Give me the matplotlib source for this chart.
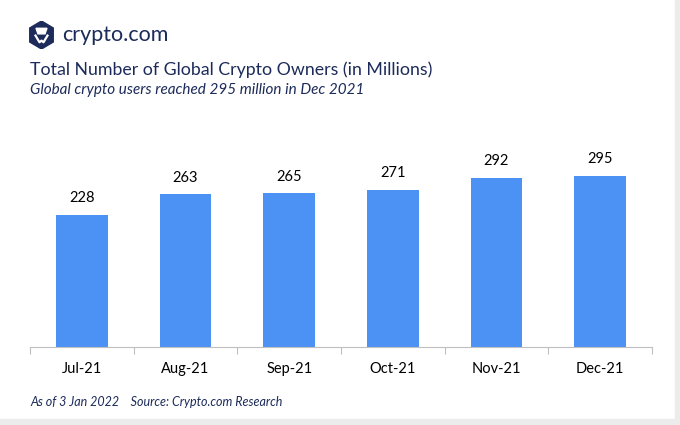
import matplotlib
matplotlib.use("Agg")
import matplotlib.pyplot as plt
from matplotlib.patches import Rectangle

months = ["Jul-21", "Aug-21", "Sep-21", "Oct-21", "Nov-21", "Dec-21"]
owners = [228, 263, 265, 271, 292, 295]

navy = "#1c2b5a"
blue = "#4b92f4"

plt.rcParams['font.family'] = ['Lato', 'DejaVu Sans']

fig = plt.figure(figsize=(6.8, 4.25), dpi=100)
fig.patch.set_facecolor("white")

# gray frame strip on right and bottom (screenshot border)
fig.patches.append(Rectangle((0.993, 0), 0.007, 1, transform=fig.transFigure, color="#ececec", zorder=0))
fig.patches.append(Rectangle((0, 0), 1, 0.014, transform=fig.transFigure, color="#ececec", zorder=0))

# logo: hexagon shield
lax = fig.add_axes([29 / 680, 1 - 49 / 425, 25 / 680, 28 / 425])
lax.set_xlim(0, 1)
lax.set_ylim(0, 1)
lax.axis("off")
hx = [0.5, 0.97, 0.97, 0.5, 0.03, 0.03, 0.5]
hy = [1.0, 0.75, 0.25, 0.0, 0.25, 0.75, 1.0]
lax.fill(hx, hy, color=navy)
lax.fill([0.28, 0.72, 0.64, 0.36], [0.74, 0.74, 0.54, 0.54], color="white")
lax.plot([0.26, 0.42, 0.5, 0.58, 0.74], [0.48, 0.24, 0.3, 0.24, 0.48], color="white", lw=1.6)

fig.text(62 / 680, 1 - 35 / 425, "crypto.com", fontsize=15.5, color=navy, va="center")
fig.text(30 / 680, 1 - 70 / 425, "Total Number of Global Crypto Owners (in Millions)",
         fontsize=12.8, color=navy, va="center")
fig.text(30 / 680, 1 - 90 / 425, "Global crypto users reached 295 million in Dec 2021",
         fontsize=11, color=navy, va="center", style="italic")
fig.text(30 / 680, 1 - 402 / 425, "As of 3 Jan 2022    Source: Crypto.com Research",
         fontsize=9, color=navy, va="center", style="italic")

ax = fig.add_axes([30 / 680, 1 - 347 / 425, 622 / 680, 203 / 425])
x = list(range(len(months)))
bars = ax.bar(x, owners, width=0.5, color=blue, zorder=2)
for xi, v in zip(x, owners):
    ax.annotate(str(v), (xi, v), xytext=(0, 7), textcoords="offset points",
                ha="center", va="bottom", fontsize=10.5, color="black")

ax.set_xlim(-0.5, len(months) - 0.5)
ax.set_ylim(0, 350)
ax.set_yticks([])
ax.set_xticks(x)
ax.set_xticklabels(months, fontsize=10.5)
ax.tick_params(axis="x", length=0, pad=11)
ax.set_xticks([i - 0.5 for i in range(len(months) + 1)], minor=True)
ax.tick_params(axis="x", which="minor", length=5, color="#bfbfbf", width=0.8)
for s in ["top", "right", "left"]:
    ax.spines[s].set_visible(False)
ax.spines["bottom"].set_color("#bfbfbf")
ax.spines["bottom"].set_linewidth(0.8)

fig.savefig("out.png", dpi=100)
